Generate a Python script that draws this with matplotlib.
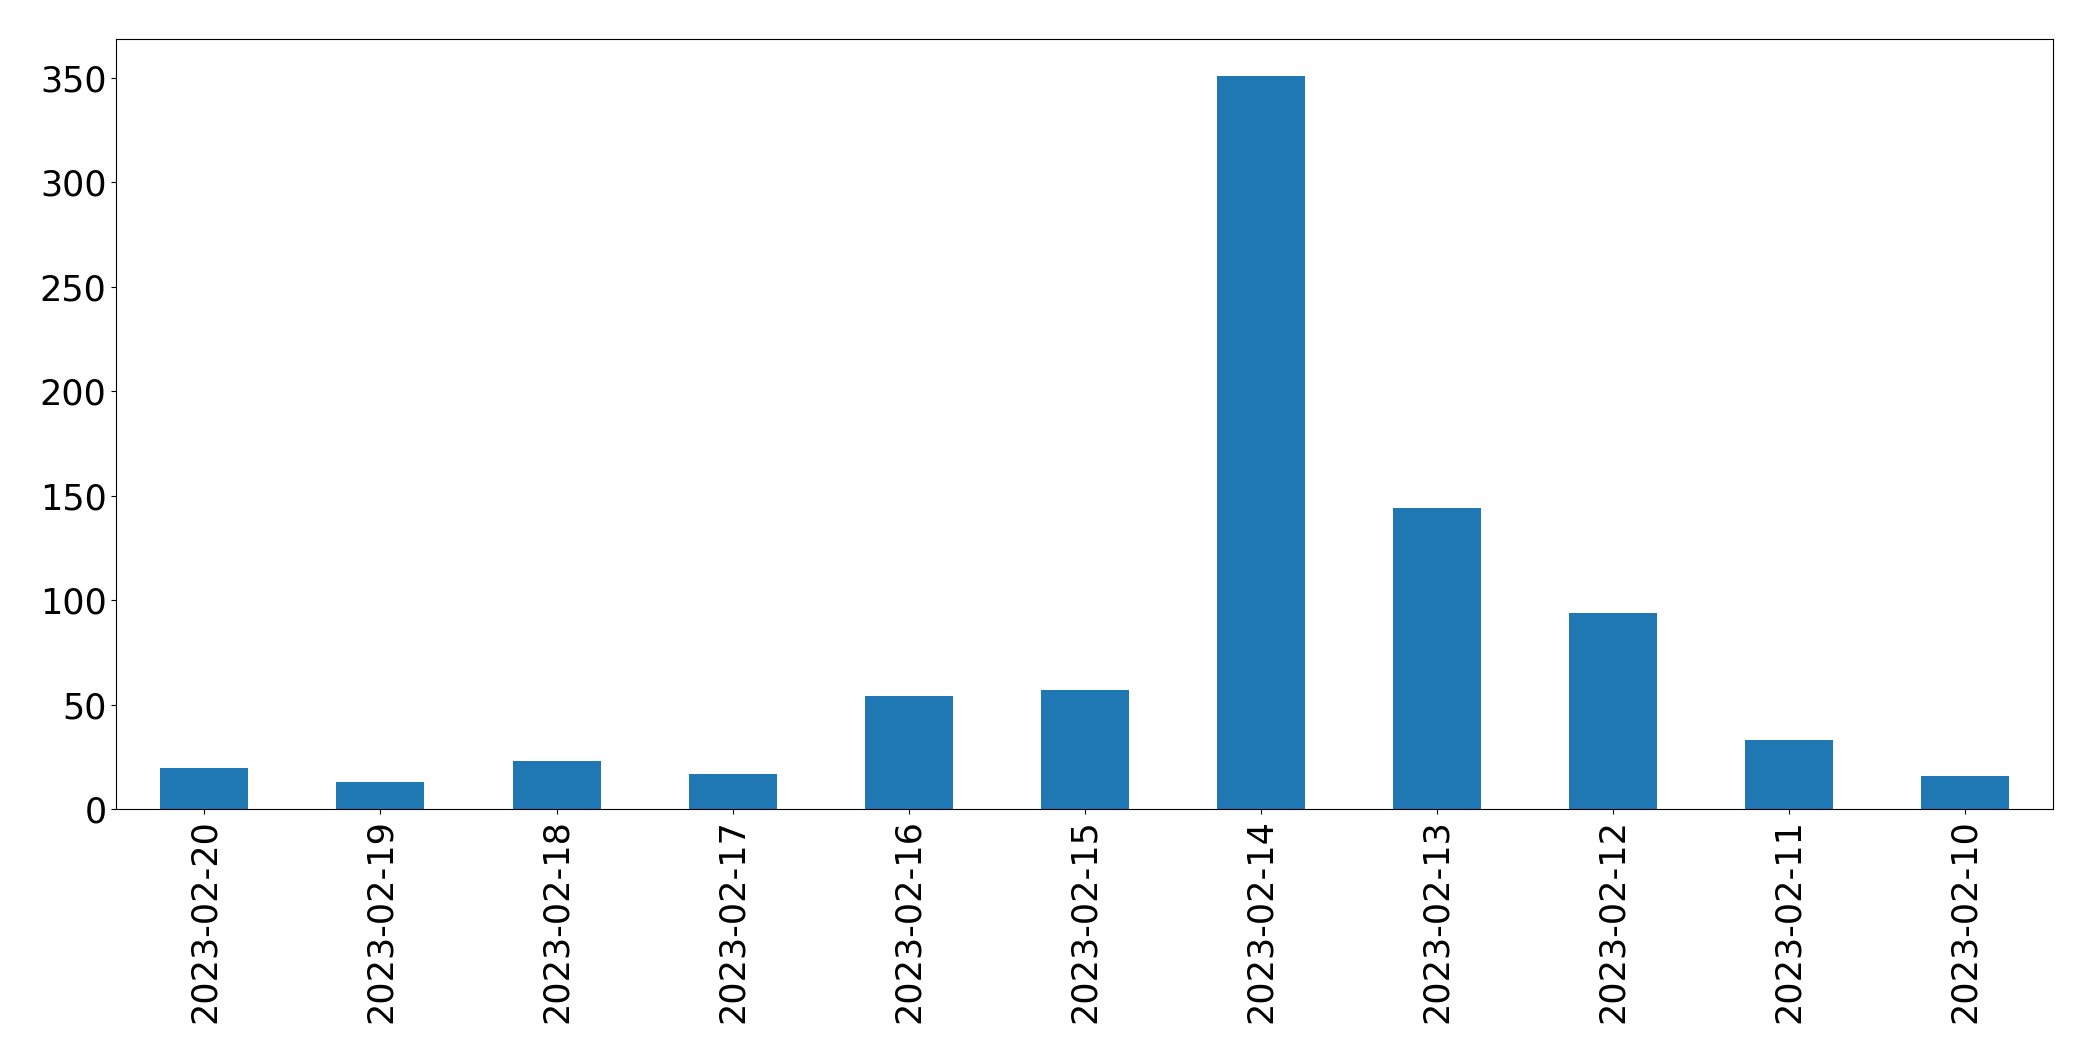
import matplotlib
matplotlib.use("Agg")
import matplotlib.pyplot as plt

dates = ["2023-02-20", "2023-02-19", "2023-02-18", "2023-02-17", "2023-02-16",
         "2023-02-15", "2023-02-14", "2023-02-13", "2023-02-12", "2023-02-11",
         "2023-02-10"]
counts = [20, 13, 23, 17, 54, 57, 351, 144, 94, 33, 16]

fig = plt.figure(figsize=(20.93, 10.61), dpi=100)
ax = fig.add_axes([0.0556, 0.2372, 0.9809 - 0.0556, 0.963 - 0.2372])
x = list(range(len(dates)))
ax.bar(x, counts, width=0.5, color="#1f77b4")
ax.set_xlim(-0.5, len(dates) - 0.5)
ax.set_ylim(0, max(counts) * 1.05)
ax.set_xticks(x)
ax.set_xticklabels(dates, rotation=90, fontsize=25.2)
ax.tick_params(axis="y", labelsize=25.2)
fig.savefig("out.png", dpi=100)
